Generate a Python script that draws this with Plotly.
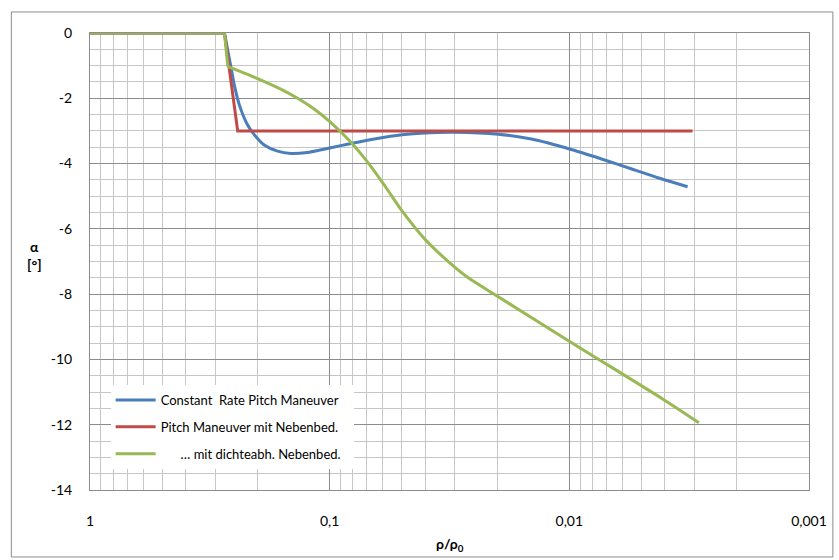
import plotly.graph_objects as go

# density ratio rho/rho0 and angle of attack alpha [deg]
blue_x = [1, 0.2748, 0.2576, 0.250, 0.238, 0.220, 0.206, 0.1875, 0.165, 0.1452,
          0.124, 0.1057, 0.0900, 0.0793, 0.0650, 0.0499, 0.0400, 0.0300, 0.0198,
          0.0144, 0.00982, 0.00692, 0.00553, 0.00420, 0.00321]
blue_y = [0, 0, -1.08, -1.59, -2.21, -2.82, -3.12, -3.43, -3.62, -3.69,
          -3.66, -3.56, -3.45, -3.37, -3.25, -3.12, -3.06, -3.04, -3.10,
          -3.25, -3.57, -3.92, -4.16, -4.45, -4.71]

red_x = [1, 0.2748, 0.242, 0.00306]
red_y = [0, 0, -3.0, -3.0]

green_x = [1, 0.2748, 0.266, 0.2198, 0.160, 0.1361, 0.1161, 0.0991, 0.0832, 0.0687,
           0.0585, 0.0499, 0.0399, 0.0300, 0.0264, 0.0198, 0.00982,
           0.00402, 0.00288]
green_y = [0, 0, -1.03, -1.27, -1.72, -2.00, -2.33, -2.74, -3.28, -4.00,
           -4.71, -5.45, -6.33, -7.18, -7.50, -8.08, -9.48,
           -11.24, -11.94]

names = ["Constant\u00a0 Rate Pitch Maneuver\u00a0\u00a0\u00a0",
         "Pitch Maneuver mit Nebenbed.",
         "\u00a0\u00a0\u00a0\u00a0\u00a0\u00a0… mit dichteabh. Nebenbed."]
colors = ["#4A7EBB", "#BE4B48", "#98B954"]

x_tickvals = [1, 0.1, 0.01, 0.001]
x_ticktext = ["1", "0,1", "0,01", "0,001"]
y_tickvals = [0, -2, -4, -6, -8, -10, -12, -14]
y_ticktext = ["0", "-2", "-4", "-6", "-8", "-10", "-12", "-14"]

FONT = "Lato, 'Open Sans', sans-serif"

fig = go.Figure()

# Each series: straight polyline up to the kink (index k), smoothed curve after it.
series = [(blue_x, blue_y, 1), (red_x, red_y, None), (green_x, green_y, 2)]
for i, (xs, ys, k) in enumerate(series):
    if k is None:
        fig.add_trace(go.Scatter(
            x=xs, y=ys, mode="lines", name=names[i], legendgroup=f"g{i}",
            line=dict(color=colors[i], width=3),
        ))
        continue
    fig.add_trace(go.Scatter(
        x=xs[:k + 1], y=ys[:k + 1], mode="lines", name=names[i], legendgroup=f"g{i}",
        line=dict(color=colors[i], width=3), showlegend=True,
    ))
    fig.add_trace(go.Scatter(
        x=xs[k:], y=ys[k:], mode="lines", name=names[i], legendgroup=f"g{i}",
        line=dict(color=colors[i], width=3, shape="spline", smoothing=0.8),
        showlegend=False,
    ))

fig.update_xaxes(
    type="log", range=[0, -3],
    tickvals=x_tickvals, ticktext=x_ticktext,
    showgrid=True, gridcolor="#8c8c8c", gridwidth=1,
    minor=dict(showgrid=True, dtick="D1", gridcolor="#c6c6c6", gridwidth=1.3),
    showline=True, linecolor="#8c8c8c", linewidth=1, mirror=True,
    ticks="outside", ticklen=18, tickcolor="rgba(0,0,0,0)",
    tickfont=dict(family=FONT, size=14, color="#000"),
    zeroline=False,
)
fig.update_yaxes(
    range=[-14, 0], tickvals=y_tickvals, ticktext=y_ticktext,
    showgrid=True, gridcolor="#8c8c8c", gridwidth=1,
    minor=dict(showgrid=True, dtick=0.5, gridcolor="#c6c6c6", gridwidth=1.3),
    showline=True, linecolor="#8c8c8c", linewidth=1, mirror=True,
    ticks="outside", ticklen=14, tickcolor="rgba(0,0,0,0)",
    tickfont=dict(family=FONT, size=14, color="#000"),
    zeroline=False,
)

# outer chart frame
fig.add_shape(type="rect", xref="paper", yref="paper",
              x0=-0.1094, x1=1.0332, y0=-0.1466, y1=1.046,
              line=dict(color="#8c8c8c", width=1), fillcolor="rgba(0,0,0,0)")

fig.add_annotation(text="<b>α</b><br><b>[°]</b>", xref="paper", yref="paper",
                   x=-0.077, y=0.514, xanchor="center", yanchor="middle",
                   showarrow=False,
                   font=dict(family=FONT, size=14, color="#000"))
fig.add_annotation(text="<b>ρ/ρ<sub>0</sub></b>", xref="paper", yref="paper",
                   x=0.5, y=-0.12, xanchor="center", yanchor="middle",
                   showarrow=False,
                   font=dict(family=FONT, size=14, color="#000"))

fig.update_layout(
    width=839, height=560,
    margin=dict(l=90, r=27, t=33, b=70),
    paper_bgcolor="white", plot_bgcolor="white",
    font=dict(family=FONT, size=13, color="#000"),
    showlegend=True,
    legend=dict(x=0.0287, y=0.2298, xanchor="left", yanchor="top",
                bgcolor="white", borderwidth=0, itemwidth=40,
                tracegroupgap=7, traceorder="grouped",
                font=dict(family=FONT, size=13, color="#000")),
)

fig.write_html("out.html")
